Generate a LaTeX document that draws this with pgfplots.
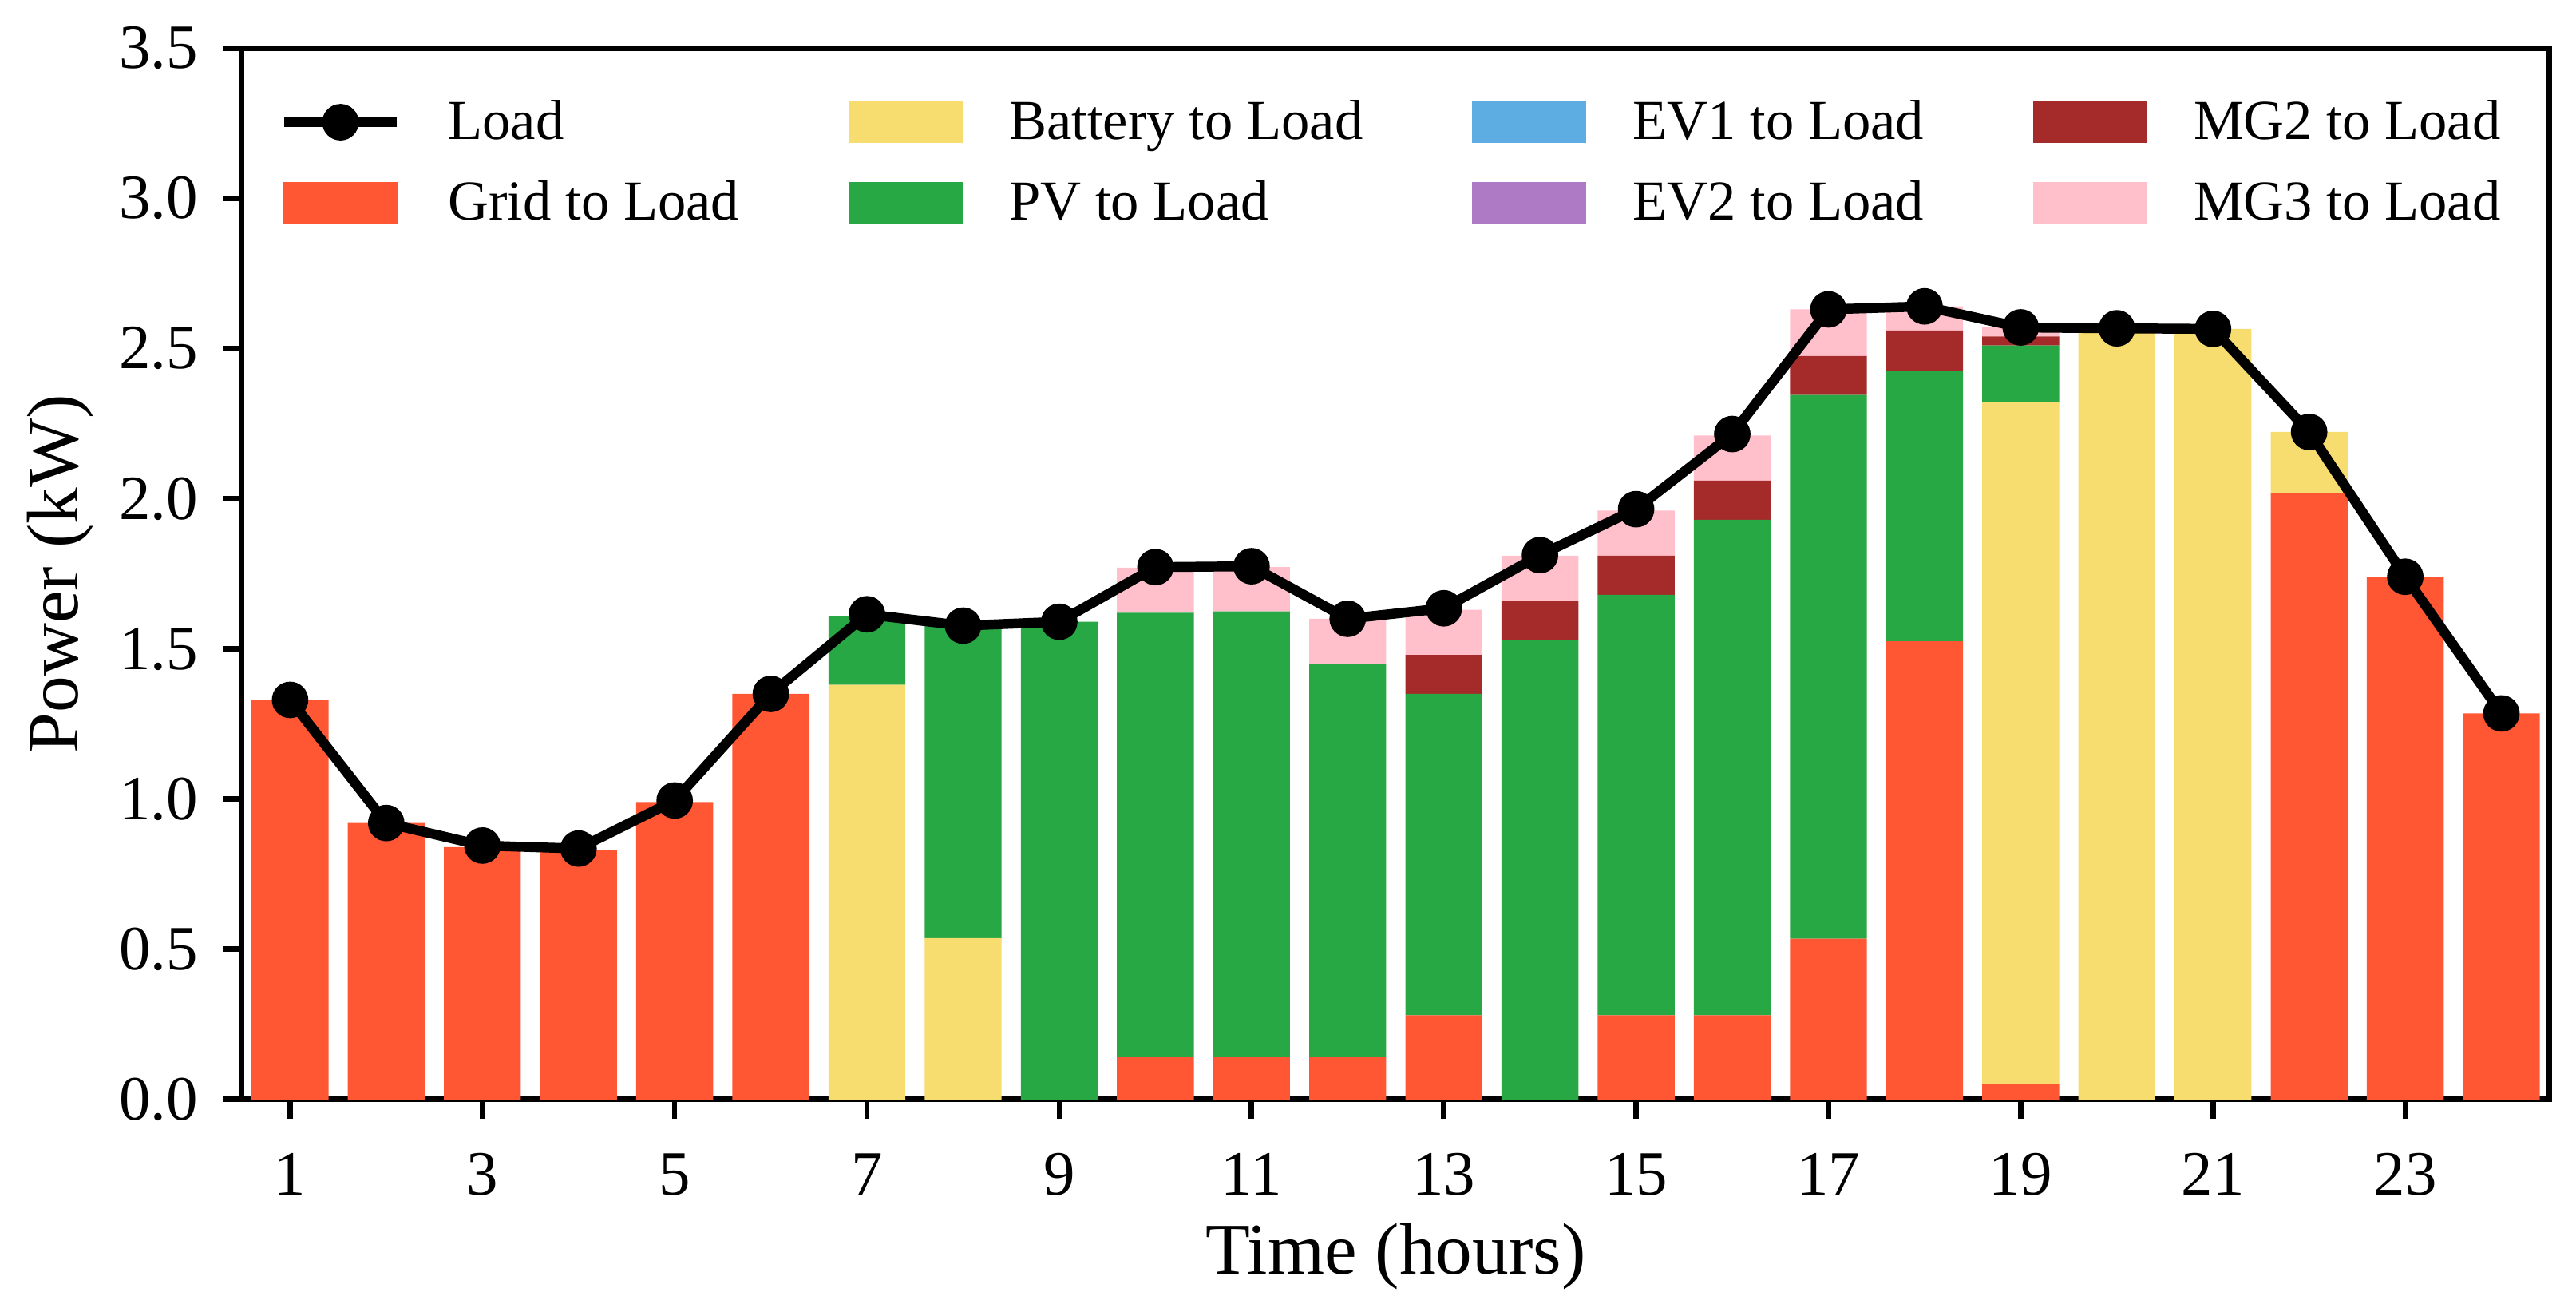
\documentclass[border=0pt]{standalone}
\usepackage{fontspec}
\setmainfont{Liberation Serif}
\usepackage{pgfplots}
\pgfplotsset{compat=1.18}

\definecolor{cgrid}{HTML}{FF5733}
\definecolor{cbatt}{HTML}{F7DC6F}
\definecolor{cpv}{HTML}{28A745}
\definecolor{cevone}{HTML}{5DADE2}
\definecolor{cevtwo}{HTML}{AF7AC5}
\definecolor{cmgtwo}{HTML}{A52A2A}
\definecolor{cmgthree}{HTML}{FFC0CB}

% hour, grid, battery, pv, ev1, ev2, mg2, mg3
\pgfplotstableread{
h    grid   batt   pv     evone evtwo mgtwo mgthree
1    1.330  0      0      0     0     0     0
2    0.920  0      0      0     0     0     0
3    0.840  0      0      0     0     0     0
4    0.830  0      0      0     0     0     0
5    0.990  0      0      0     0     0     0
6    1.350  0      0      0     0     0     0
7    0      1.380  0.230  0     0     0     0
8    0      0.537  1.040  0     0     0     0
9    0      0      1.590  0     0     0     0
10   0.140  0      1.480  0     0     0     0.150
11   0.140  0      1.485  0     0     0     0.147
12   0.140  0      1.310  0     0     0     0.150
13   0.280  0      1.070  0     0     0.130 0.150
14   0      0      1.530  0     0     0.130 0.150
15   0.280  0      1.400  0     0     0.130 0.150
16   0.280  0      1.650  0     0     0.130 0.150
17   0.535  0      1.810  0     0     0.130 0.155
18   1.525  0      0.900  0     0     0.135 0.080
19   0.050  2.270  0.190  0     0     0.030 0.030
20   0      2.565  0      0     0     0     0
21   0      2.565  0      0     0     0     0
22   2.017  0.205  0      0     0     0     0
23   1.740  0      0      0     0     0     0
24   1.285  0      0      0     0     0     0
}\flows

\pgfplotstableread{
h    load
1    1.330
2    0.920
3    0.845
4    0.835
5    0.995
6    1.350
7    1.615
8    1.577
9    1.590
10   1.772
11   1.775
12   1.600
13   1.635
14   1.812
15   1.965
16   2.215
17   2.630
18   2.640
19   2.570
20   2.567
21   2.565
22   2.222
23   1.740
24   1.285
}\load

\pgfplotsset{
  common/.style={
    scale only axis, width=696pt, height=317pt,
    xmin=0.5, xmax=24.5, ymin=0, ymax=3.5,
  },
  patch/.style={legend image code/.code={\fill[##1] (0pt,-6pt) rectangle (34pt,6pt);}},
  loadleg/.style={legend image code/.code={%
    \draw[mark repeat=2, mark phase=2, ##1] plot coordinates {(0pt,0pt) (17pt,0pt) (34pt,0pt)};}},
}

\begin{document}
\begin{tikzpicture}
\begin{axis}[
  common, name=main,
  ybar stacked, bar width=0.8,
  xtick={1,3,...,23}, xticklabels={1,3,5,7,9,11,13,15,17,19,21,23},
  ytick={0,0.5,...,3.5}, yticklabels={0.0,0.5,1.0,1.5,2.0,2.5,3.0,3.5},
  tick pos=left, tick align=outside,
  major tick length=5.8pt,
  every tick/.style={black, line width=1.6pt},
  axis line style={line width=1.6pt},
  ticklabel style={font=\fontsize{19}{22}\selectfont},
  xticklabel style={yshift=-7pt},
  yticklabel style={xshift=-4pt},
  label style={font=\fontsize{22}{26}\selectfont},
  xlabel={Time (hours)}, ylabel={Power (kW)},
  xlabel style={yshift=-1.5pt},
  ylabel style={yshift=1pt},
  every axis plot/.append style={draw=none},
]
\addplot[fill=cgrid] table[x=h, y=grid] {\flows};
\addplot[fill=cbatt] table[x=h, y=batt] {\flows};
\addplot[fill=cpv] table[x=h, y=pv] {\flows};
\addplot[fill=cevone] table[x=h, y=evone] {\flows};
\addplot[fill=cevtwo] table[x=h, y=evtwo] {\flows};
\addplot[fill=cmgtwo] table[x=h, y=mgtwo] {\flows};
\addplot[fill=cmgthree] table[x=h, y=mgthree] {\flows};
\end{axis}
\begin{axis}[
  common,
  axis lines=none,
  legend columns=4,
  legend style={
    at={(0,1)}, anchor=north west, xshift=11pt, yshift=-13.5pt,
    draw=none, fill=none, inner sep=0pt,
    font=\fontsize{17}{20}\selectfont,
    nodes={inner xsep=0pt, inner ysep=2pt, anchor=west},
    row sep=7pt,
    /tikz/every odd column/.append style={column sep=14pt},
    /tikz/every even column/.append style={column sep=33pt},
  },
]
\addplot[loadleg, black, line width=3pt, mark=*, mark size=4pt] table[x=h, y=load] {\load};
\addlegendentry{Load}
\addlegendimage{patch, cbatt}\addlegendentry{Battery to Load}
\addlegendimage{patch, cevone}\addlegendentry{EV1 to Load}
\addlegendimage{patch, cmgtwo}\addlegendentry{MG2 to Load}
\addlegendimage{patch, cgrid}\addlegendentry{Grid to Load}
\addlegendimage{patch, cpv}\addlegendentry{PV to Load}
\addlegendimage{patch, cevtwo}\addlegendentry{EV2 to Load}
\addlegendimage{patch, cmgthree}\addlegendentry{MG3 to Load}
\end{axis}
\pgfresetboundingbox
\path ([shift={(-73pt,-64pt)}]main.south west) rectangle ([shift={(8pt,14.5pt)}]main.north east);
\end{tikzpicture}
\end{document}
